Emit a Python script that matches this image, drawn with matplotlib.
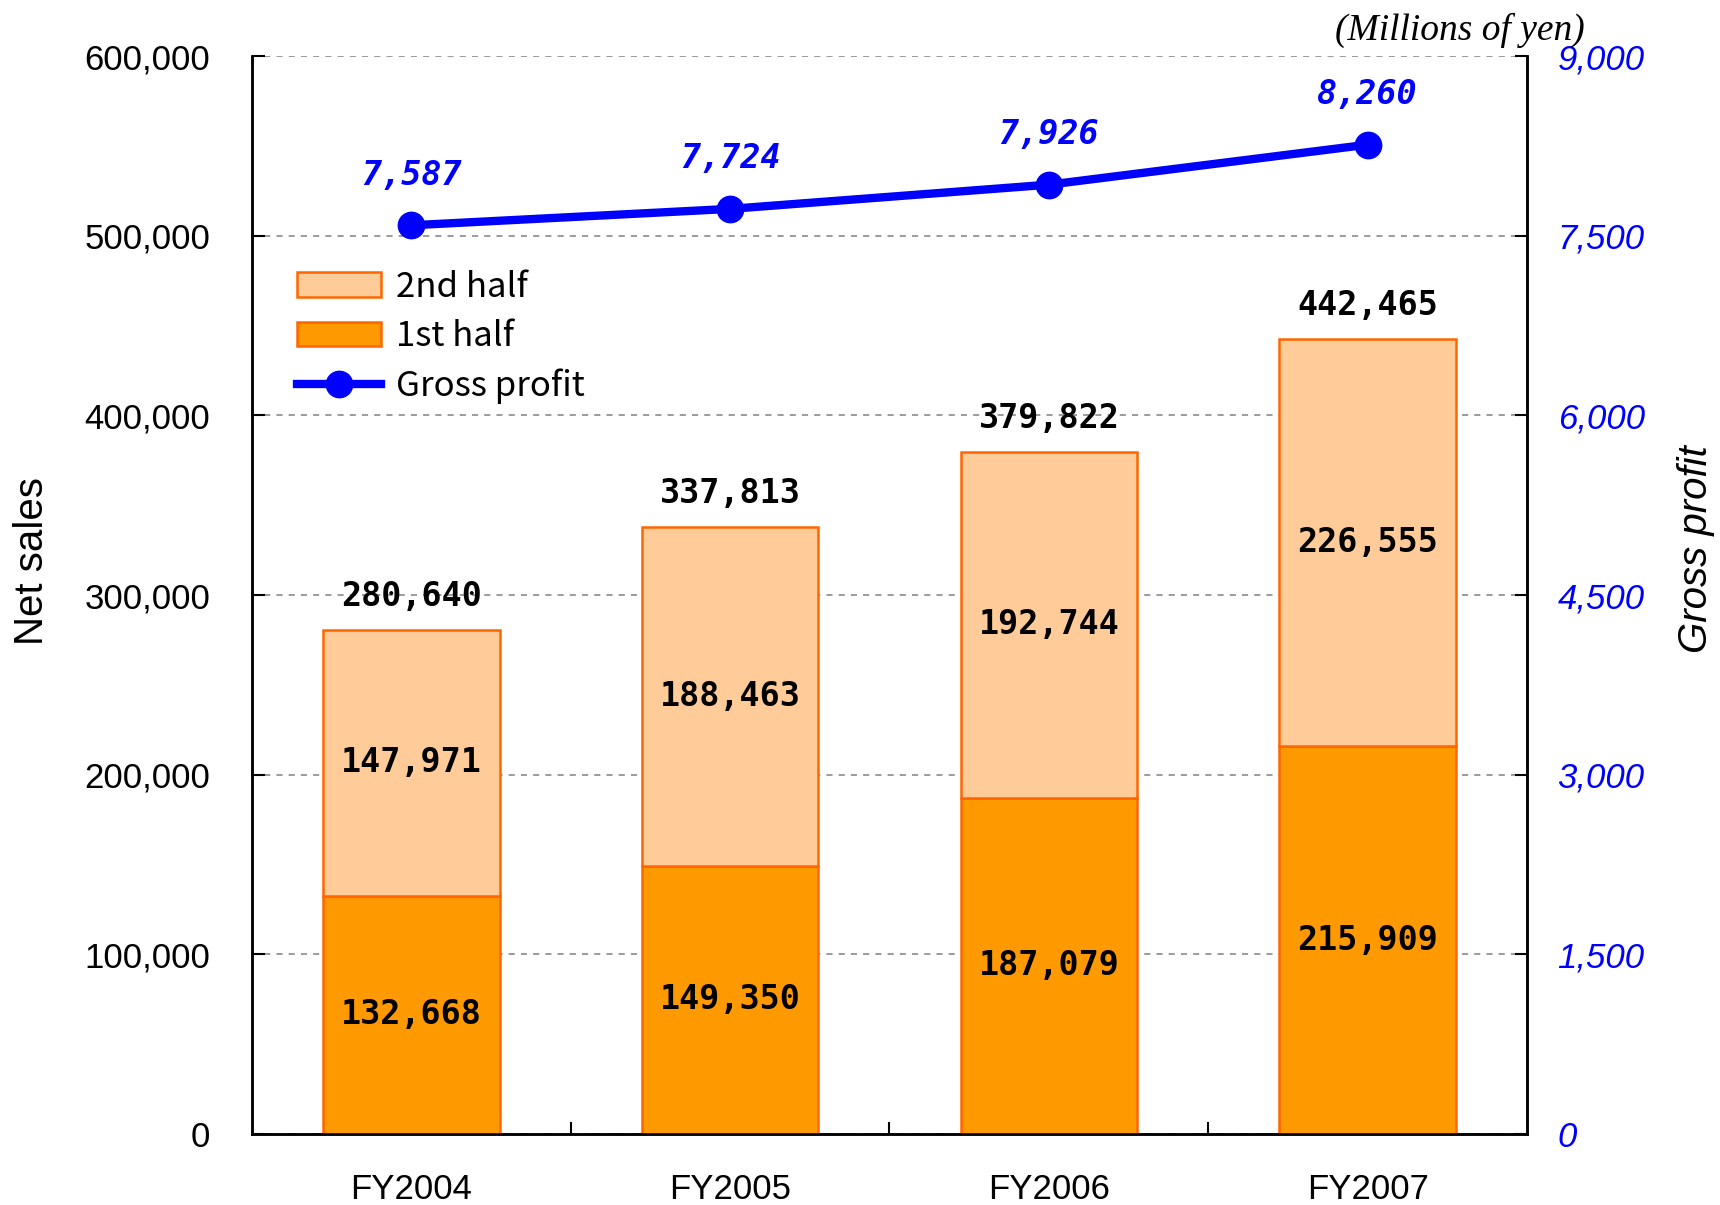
import matplotlib
matplotlib.use("Agg")
import matplotlib.pyplot as plt
from matplotlib.ticker import FuncFormatter, MultipleLocator

years = ["FY2004", "FY2005", "FY2006", "FY2007"]
first_half = [132668, 149350, 187079, 215909]
second_half = [147971, 188463, 192744, 226555]
net_sales = [280640, 337813, 379822, 442465]
gross_profit = [7587, 7724, 7926, 8260]

plt.rcParams['font.family'] = ['Liberation Sans', 'DejaVu Sans']

fig = plt.figure(figsize=(17.2, 12.05), dpi=100)
ax = fig.add_axes([0.1465, 0.0589, 0.7413, 0.8946])
ax2 = ax.twinx()

x = range(len(years))
c1 = "#FF9900"
c2 = "#FFCC99"
edge = "#FF6600"

b1 = ax.bar(x, first_half, width=0.554, color=c1, edgecolor=edge, linewidth=1.8,
            label="1st half", zorder=3)
b2 = ax.bar(x, second_half, width=0.554, bottom=first_half, color=c2, edgecolor=edge,
            linewidth=1.8, label="2nd half", zorder=3)

lab_font = dict(family="DejaVu Sans Mono", fontweight="bold", fontsize=24)
for i in x:
    ax.text(i, first_half[i] / 2, f"{first_half[i]:,}", ha="center", va="center", zorder=4, **lab_font)
    ax.text(i, first_half[i] + second_half[i] / 2, f"{second_half[i]:,}", ha="center", va="center",
            zorder=4, **lab_font)
    ax.annotate(f"{net_sales[i]:,}", (i, net_sales[i]), xytext=(0, 24), textcoords="offset points",
                ha="center", va="center", zorder=4, **lab_font)

ax.set_xlim(-0.5, 3.5)
ax.set_ylim(0, 600000)
ax.yaxis.set_major_locator(MultipleLocator(100000))
ax.yaxis.set_major_formatter(FuncFormatter(lambda v, p: f"{int(v):,}"))
ax.grid(axis="y", color="#808080", linestyle=(0, (4, 4)), linewidth=1.1, zorder=0)
ax.set_axisbelow(True)

ax.set_xticks(list(x))
ax.set_xticklabels(years, fontsize=25)
ax.set_xticks([0.5, 1.5, 2.5], minor=True)
ax.tick_params(axis="x", which="major", length=0, pad=28)
ax.tick_params(axis="x", which="minor", direction="in", length=9, width=1.5)
ax.tick_params(axis="y", direction="in", length=9, width=1.5, labelsize=25, pad=30)
ax.set_ylabel("Net sales", fontsize=29)
ax.yaxis.set_label_coords(-0.158, 0.532)

ax2.plot(list(x), gross_profit, color="#0000FF", linewidth=6, marker="o", markersize=19,
         label="Gross profit", zorder=5)
for i in x:
    ax2.annotate(f"{gross_profit[i]:,}", (i, gross_profit[i]), xytext=(0, 36),
                 textcoords="offset points", ha="center", va="center", color="#0000FF",
                 family="DejaVu Sans Mono", fontweight="bold", fontstyle="italic", fontsize=24)
ax2.set_ylim(0, 9000)
ax2.yaxis.set_major_locator(MultipleLocator(1500))
ax2.yaxis.set_major_formatter(FuncFormatter(lambda v, p: f"{int(v):,}"))
ax2.tick_params(axis="y", direction="in", length=9, width=1.5, labelsize=25, pad=22,
                labelcolor="#0000FF")
for t in ax2.get_yticklabels():
    t.set_fontstyle("italic")
ax2.set_ylabel("Gross profit", fontsize=29, fontstyle="italic", rotation=90)
ax2.yaxis.set_label_position("right")
ax2.yaxis.set_label_coords(1.118, 0.543)

for a in (ax, ax2):
    for s in ("left", "right", "bottom"):
        a.spines[s].set_linewidth(1.8)
    a.spines["top"].set_visible(False)

ax.legend([b2, b1, ax2.get_lines()[0]], ["2nd half", "1st half", "Gross profit"],
          loc="upper left", bbox_to_anchor=(0.022, 0.818), frameon=False,
          handlelength=2.4, handletextpad=0.45, labelspacing=0.42, borderpad=0,
          prop={"family": ["Noto Sans CJK JP", "DejaVu Sans"], "size": 25})

fig.text(0.9215, 0.975, "(Millions of yen)", ha="right", va="center", family="Liberation Serif",
         fontstyle="italic", fontsize=27)

fig.savefig("out.png", dpi=100)
